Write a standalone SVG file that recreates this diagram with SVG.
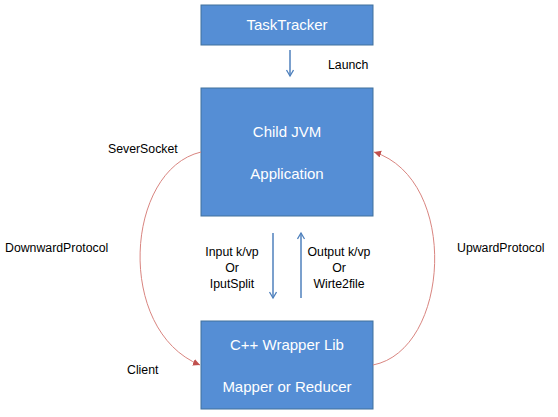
<svg xmlns="http://www.w3.org/2000/svg" width="558" height="417" viewBox="0 0 558 417">
<style>
.box{fill:#558ED5;stroke:#41719C;stroke-width:1}
.wt{fill:#fff;font-family:"Liberation Sans",Arial,sans-serif;font-size:15px;text-anchor:middle}
.lb{fill:#000;font-family:"Liberation Sans",Arial,sans-serif;font-size:12.3px}
.blue{stroke:#4F81BD;stroke-width:1.5;fill:none}
.red{stroke:#D98580;stroke-width:1;fill:none}
</style>
<defs>
<marker id="va" markerWidth="10" markerHeight="10" refX="7" refY="4" orient="auto" markerUnits="userSpaceOnUse">
<path d="M1,0.5 L7,4 L1,7.5" fill="none" stroke="#4F81BD" stroke-width="1.3"/>
</marker>
<marker id="ra" markerWidth="10" markerHeight="10" refX="7" refY="3.5" orient="auto" markerUnits="userSpaceOnUse">
<path d="M0,0 L7,3.5 L0,7 Z" fill="#C0504D"/>
</marker>
</defs>
<g id="tasktracker"><rect class="box" x="201" y="5" width="172" height="40"/><text class="wt" x="287" y="30">TaskTracker</text></g>
<g id="childjvm"><rect class="box" x="201" y="88" width="172" height="128"/><text class="wt" x="287" y="137">Child JVM</text><text class="wt" x="287" y="179">Application</text></g>
<g id="wrapper"><rect class="box" x="201" y="321" width="172" height="88"/><text class="wt" x="287" y="350">C++ Wrapper Lib</text><text class="wt" x="287" y="392">Mapper or Reducer</text></g>
<g id="connectors">
<line class="blue" x1="290" y1="50" x2="290" y2="76" marker-end="url(#va)"/>
<line class="blue" x1="273" y1="233" x2="273" y2="298" marker-end="url(#va)"/>
<line class="blue" x1="301" y1="298" x2="301" y2="233" marker-end="url(#va)"/>
<path class="red" d="M201,152 C125,170 115,330 200,365" marker-end="url(#ra)"/>
<path class="red" d="M373,365 C450,350 460,180 374,152" marker-end="url(#ra)"/>
</g>
<g id="labels">
<text class="lb" x="328" y="69">Launch</text>
<text class="lb" x="108" y="153">SeverSocket</text>
<text class="lb" x="5" y="252">DownwardProtocol</text>
<text class="lb" x="457" y="252">UpwardProtocol</text>
<text class="lb" x="127" y="374">Client</text>
<text class="lb" text-anchor="middle" x="232" y="256">Input k/vp</text>
<text class="lb" text-anchor="middle" x="232" y="272">Or</text>
<text class="lb" text-anchor="middle" x="232" y="288">IputSplit</text>
<text class="lb" text-anchor="middle" x="339" y="256">Output k/vp</text>
<text class="lb" text-anchor="middle" x="339" y="272">Or</text>
<text class="lb" text-anchor="middle" x="339" y="288">Wirte2file</text>
</g>
</svg>
